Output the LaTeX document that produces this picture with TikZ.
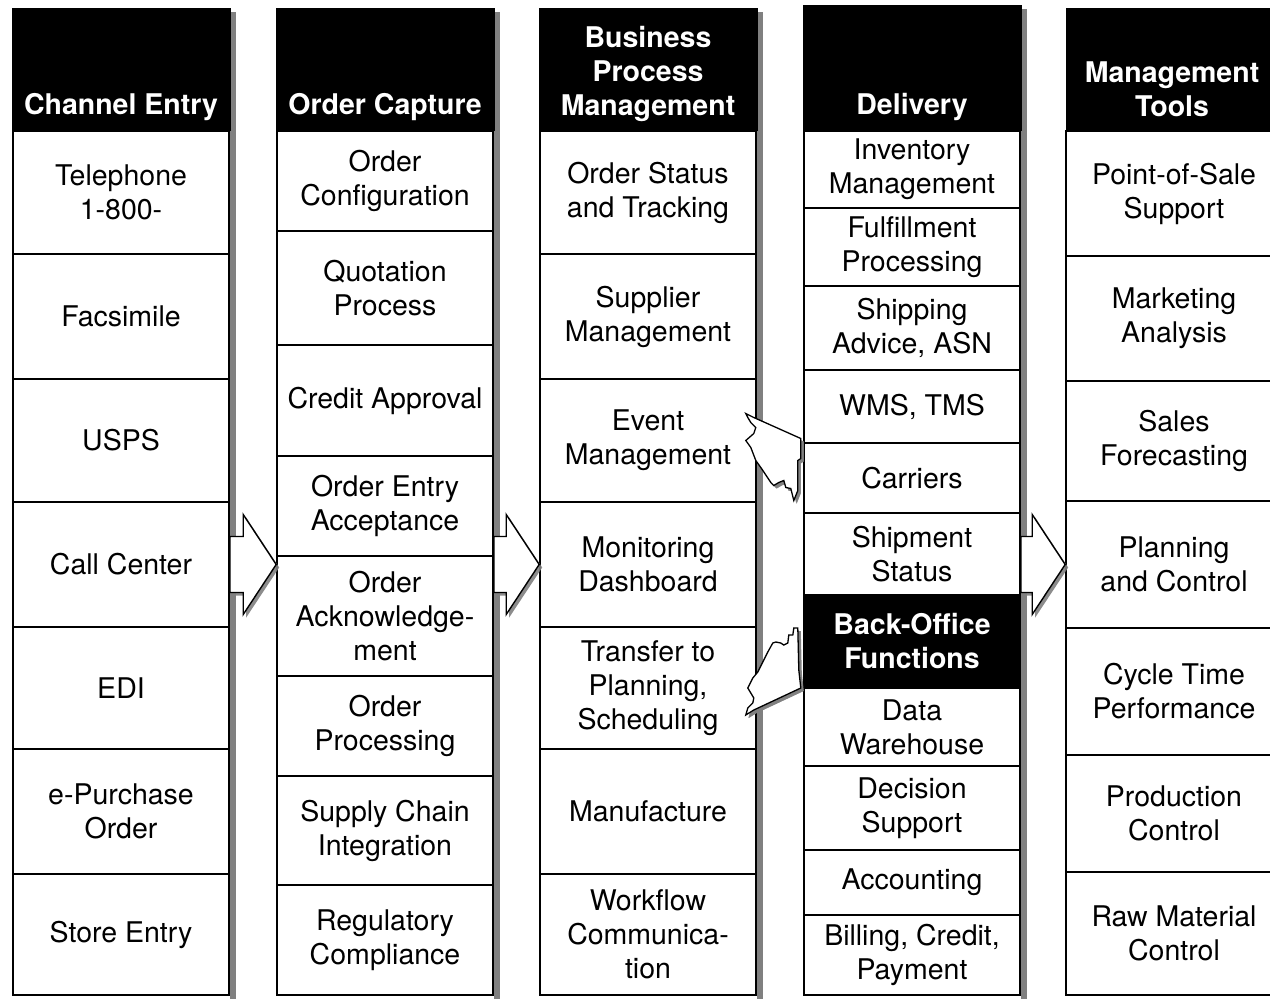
\documentclass[tikz,border=0pt]{standalone}
\usepackage{fontspec}
\setmainfont{TeX Gyre Heros}
\usetikzlibrary{calc, shadows}

\newcommand\cellfont{\fontsize{28.5}{34}\selectfont}
\newcommand\headfont{\fontsize{28.5}{34}\selectfont\bfseries}

\tikzset{
  boxcell/.style={draw, line width=1.6pt, fill=white, align=center, inner sep=0pt,
    minimum width=216pt, font=\cellfont},
  headtext/.style={text=white, align=center, inner sep=0pt, font=\headfont},
  colshade/.style={fill=black!50},
  bigarrow/.style={fill=white, draw=black, line width=1.4pt, line join=miter,
    drop shadow={shadow xshift=3pt, shadow yshift=-3pt, fill=black!50, opacity=.9}},
  boltarrow/.style={bigarrow, line width=1.3pt,
    drop shadow={shadow xshift=2.5pt, shadow yshift=-3pt, fill=black!50, opacity=.9}},
}

% hollow arrow from a column edge (#1) to its tip (#2)
\newcommand\blockarrow[2]{%
  \draw[bigarrow] ($(#1)+(0,-28)$) -- ($(#2)+(-33,-28)$) -- ($(#2)+(-33,-50)$) -- (#2)
    -- ($(#2)+(-33,50)$) -- ($(#2)+(-33,28)$) -- ($(#1)+(0,28)$) -- cycle;}

\begin{document}
\begin{tikzpicture}[x=1pt, y=-1pt]
  \def\colw{216}
  \clip (0,0) rectangle (1270,999);
  \useasboundingbox (0,0) rectangle (1270,999);
  \fill[white] (0,0) rectangle (1270,999);

  \foreach \xl/\ytop in {13/8, 277/8, 540/8, 804/5, 1067/8} {
    \fill[colshade] (\xl+\colw+1, \ytop+4) rectangle (\xl+\colw+7, 999);
    \fill[black] (\xl-1.5, \ytop) rectangle (\xl+\colw+2, 131);
  }

  \node[headtext] (chanhead) at (121, 107.5) {Channel Entry};
  \node[headtext] (capthead) at (385, 107.5) {Order Capture};
  \node[headtext] (bpmhead) at (648, 74) {Business\\Process\\Management};
  \node[headtext] (delivhead) at (912, 107.5) {Delivery};
  \node[headtext] (toolshead) at (1172, 89) {Management\\Tools};

  \foreach \ya/\yb/\txt [count=\i] in {131/254/{Telephone\\1-800-}, 254/379/Facsimile,
      379/502/USPS, 502/627/{Call Center}, 627/749/EDI, 749/874/{e-Purchase\\Order},
      874/995/{Store Entry}}
    \node[boxcell, minimum height={(\yb-\ya)*1pt}] (chan\i) at (121, {(\ya+\yb)/2}) {\txt};

  \foreach \ya/\yb/\txt [count=\i] in {131/231/{Order\\Configuration}, 231/345/{Quotation\\Process},
      345/456/{Credit Approval}, 456/556/{Order Entry\\Acceptance},
      556/676/{Order\\Acknowledge-\\ment}, 676/776/{Order\\Processing},
      776/885/{Supply Chain\\Integration}, 885/995/{Regulatory\\Compliance}}
    \node[boxcell, minimum height={(\yb-\ya)*1pt}] (capt\i) at (385, {(\ya+\yb)/2}) {\txt};

  \foreach \ya/\yb/\txt [count=\i] in {131/254/{Order Status\\and Tracking}, 254/379/{Supplier\\Management},
      379/502/{Event\\Management}, 502/627/{Monitoring\\Dashboard},
      627/749/{Transfer to\\Planning,\\Scheduling}, 749/874/Manufacture,
      874/995/{Workflow\\Communica-\\tion}}
    \node[boxcell, minimum height={(\yb-\ya)*1pt}] (bpm\i) at (648, {(\ya+\yb)/2}) {\txt};

  \foreach \ya/\yb/\txt [count=\i] in {131/208/{Inventory\\Management}, 208/286/{Fulfillment\\Processing},
      286/370/{Shipping\\Advice, ASN}, 370/443/{WMS, TMS}, 443/513/Carriers,
      513/595/{Shipment\\Status}}
    \node[boxcell, minimum height={(\yb-\ya)*1pt}] (deliv\i) at (912, {(\ya+\yb)/2}) {\txt};
  \node[boxcell, fill=black, text=white, font=\headfont, minimum height=93pt]
    (backoff) at (912, 641.5) {Back-Office\\Functions};
  \foreach \ya/\yb/\txt [count=\i from 7] in {688/766/{Data\\Warehouse}, 766/850/{Decision\\Support},
      850/915/Accounting, 915/995/{Billing, Credit,\\Payment}}
    \node[boxcell, minimum height={(\yb-\ya)*1pt}] (deliv\i) at (912, {(\ya+\yb)/2}) {\txt};

  \foreach \ya/\yb/\txt [count=\i] in {131/256/{Point-of-Sale\\Support}, 256/381/{Marketing\\Analysis},
      381/501/{Sales\\Forecasting}, 501/628/{Planning\\and Control},
      628/755/{Cycle Time\\Performance}, 755/872/{Production\\Control},
      872/995/{Raw Material\\Control}}
    \node[boxcell, minimum height={(\yb-\ya)*1pt}] (tools\i) at (1174, {(\ya+\yb)/2}) {\txt};

  \coordinate (tip1) at (chan4.east -| capt1.west);
  \coordinate (tail2) at (bpm4.west -| capt1.east);
  \coordinate (tail3) at (tools4.west -| deliv1.east);
  \blockarrow{chan4.east}{tip1}
  \blockarrow{tail2}{bpm4.west}
  \blockarrow{tail3}{tools4.west}

  \begin{scope}[shift={(bpm3.east)}]
    \draw[boltarrow] (-11,-27) -- (-3,-23) -- (44,-2) -- (44,18) -- (41,20) -- (41,50)
      -- (37,60) -- (34,48) -- (29,47) -- (27,40) -- (22,42) -- (17,45) -- (14,42)
      -- (4,27) -- (-1,20) -- (-6,7) -- (-11,0) -- (-3,-7) -- (-1,-13) -- (-6,-18)
      -- (-9,-23) -- cycle;
  \end{scope}
  \begin{scope}[shift={(bpm5.east)}]
    \draw[boltarrow] (-11,27) -- (-3,22) -- (44,0) -- (42,-18) -- (41,-60) -- (37,-60)
      -- (36,-53) -- (32,-53) -- (31,-45) -- (27,-43) -- (24,-45) -- (19,-46) -- (16,-45)
      -- (11,-36) -- (6,-26) -- (1,-16) -- (-4,-10) -- (-9,0) -- (-6,5) -- (-3,10)
      -- (-4,15) -- (-9,20) -- cycle;
  \end{scope}
\end{tikzpicture}
\end{document}
